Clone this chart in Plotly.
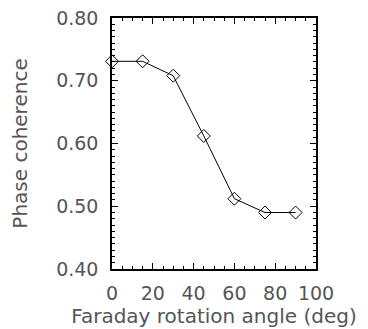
import plotly.graph_objects as go

angles = [0, 15, 30, 45, 60, 75, 90]
coherence = [0.731, 0.731, 0.708, 0.612, 0.512, 0.490, 0.490]
x_ticks = [0, 20, 40, 60, 80, 100]
y_ticks = [0.40, 0.50, 0.60, 0.70, 0.80]
y_tick_text = ["0.40", "0.50", "0.60", "0.70", "0.80"]

font = dict(family="DejaVu Sans", size=19, color="#555")
title_font = dict(family="DejaVu Sans", size=20, color="#555")

fig = go.Figure()
fig.add_trace(go.Scatter(
    x=angles, y=coherence, mode="lines+markers",
    line=dict(color="black", width=1),
    marker=dict(symbol="diamond-open", size=10, color="black", line=dict(width=1)),
    cliponaxis=False, showlegend=False,
))

axis_common = dict(
    showgrid=False, zeroline=False, showline=True, linecolor="black", linewidth=1.5,
    mirror="allticks", ticks="inside", ticklen=6, tickwidth=1, tickcolor="black",
    tickfont=font, automargin=False, ticklabeloverflow="allow",
)

fig.update_xaxes(
    range=[0, 100], tickvals=x_ticks,
    minor=dict(dtick=5, ticks="inside", ticklen=3, tickcolor="black"),
    ticklabelstandoff=6,
    title=dict(text="Faraday rotation angle (deg)", font=title_font, standoff=6),
    **axis_common,
)
fig.update_yaxes(
    range=[0.40, 0.80], tickvals=y_ticks, ticktext=y_tick_text,
    minor=dict(dtick=0.01, ticks="inside", ticklen=3, tickcolor="black"),
    ticklabelstandoff=8,
    title=dict(text="Phase coherence", font=title_font, standoff=24),
    **axis_common,
)

fig.update_layout(
    width=368, height=329,
    margin=dict(l=104, r=60, t=10, b=68),
    paper_bgcolor="white", plot_bgcolor="white",
)

fig.write_html("out.html")
